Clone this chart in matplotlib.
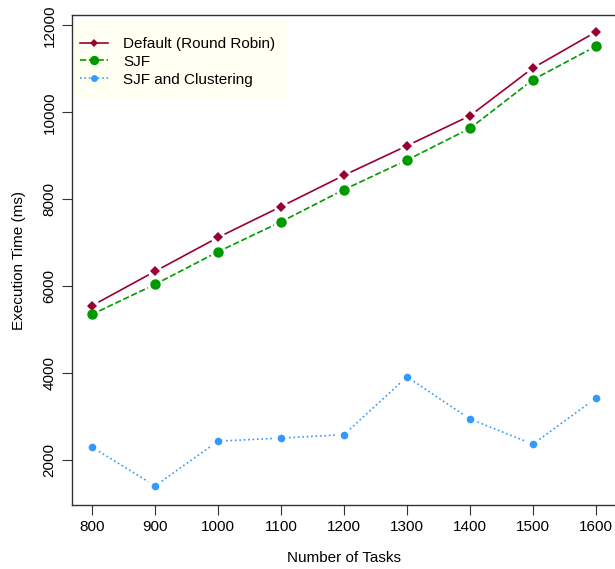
import matplotlib
matplotlib.use('Agg')
import matplotlib.pyplot as plt
from matplotlib.patches import Rectangle
import numpy as np

plt.rcParams['font.family'] = ['Liberation Sans', 'DejaVu Sans']

tasks = [800, 900, 1000, 1100, 1200, 1300, 1400, 1500, 1600]
default_rr = [5550, 6340, 7120, 7830, 8550, 9230, 9920, 11020, 11850]
sjf = [5350, 6040, 6790, 7480, 8220, 8900, 9630, 10750, 11520]
sjf_clust = [2290, 1400, 2430, 2500, 2580, 3910, 2940, 2360, 3420]

series = [
    ("Default (Round Robin)", default_rr, '#990033', '-', 'D', 5),
    ("SJF", sjf, '#009900', '--', 'o', 7.5),
    ("SJF and Clustering", sjf_clust, '#3399FF', ':', 'o', 5.5),
]

W, H = 615, 569
fig = plt.figure(figsize=(W / 100, H / 100), dpi=100)
ax = fig.add_axes([72 / W, (H - 505) / H, (616 - 72) / W, (505 - 15) / H])
ax.set_xlim(768, 1632)
ax.set_ylim(960, 12240)

gap = 8  # px gap between line and point, like R type="b"


def gapped(ax, x, y, **kw):
    pts = ax.transData.transform(np.column_stack([x, y]))
    inv = ax.transData.inverted()
    for i in range(len(pts) - 1):
        p, q = pts[i], pts[i + 1]
        d = q - p
        n = np.hypot(*d)
        if n <= 2 * gap:
            continue
        u = d / n
        a = inv.transform(p + u * gap)
        b = inv.transform(q - u * gap)
        ax.plot([a[0], b[0]], [a[1], b[1]], **kw)


for label, vals, col, ls, mk, ms in series:
    gapped(ax, tasks, vals, color=col, linestyle=ls, linewidth=1.2)
    ax.plot(tasks, vals, linestyle='none', marker=mk, color=col, markersize=ms,
            markeredgewidth=0)

# legend background, like R's bg= box without border
ax.add_patch(Rectangle((73 / W, 1 - 98 / H), (287 - 73) / W, (98 - 22) / H,
                       transform=fig.transFigure, facecolor='#FFFFF2',
                       edgecolor='none', zorder=0.5))

handles = []
for label, vals, col, ls, mk, ms in series:
    h, = ax.plot([], [], color=col, linestyle=ls, linewidth=1.2, marker=mk,
                 markersize=ms, markeredgewidth=0, label=label)
    handles.append(h)
leg = ax.legend(handles=handles, loc='upper left', bbox_to_anchor=(73 / W, 1 - 30 / H),
                bbox_transform=fig.transFigure, frameon=False, fontsize=11,
                handlelength=1.85, borderpad=0.45, labelspacing=0.25, handletextpad=1.0,
                borderaxespad=0, markerscale=0.9)

ax.set_xticks(tasks)
ax.set_yticks([2000, 4000, 6000, 8000, 10000, 12000])
ax.tick_params(direction='out', length=7, labelsize=11, color='#333333', pad=4)
for lab in ax.get_yticklabels():
    lab.set_rotation(90)
    lab.set_va('center')
for s in ax.spines.values():
    s.set_color('#333333')
    s.set_linewidth(1)

ax.set_xlabel("Number of Tasks", fontsize=11, labelpad=12)
ax.set_ylabel("Execution Time (ms)", fontsize=11, labelpad=12)

fig.savefig('out.png', dpi=100)
